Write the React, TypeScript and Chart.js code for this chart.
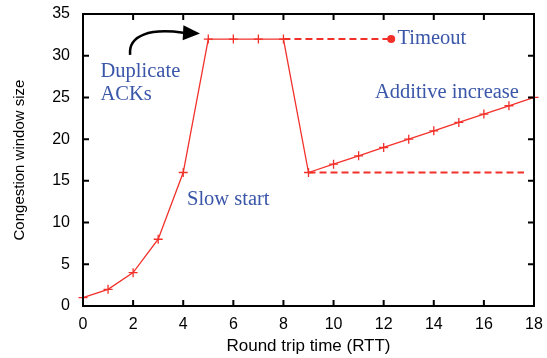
import React, { useEffect, useRef } from "react";
import { Chart, registerables } from "chart.js";

Chart.register(...registerables);

const rttValues = [0, 1, 2, 3, 4, 5, 6, 7, 8, 9, 10, 11, 12, 13, 14, 15, 16, 17, 18];
const windowSizes = [1, 2, 4, 8, 16, 32, 32, 32, 32, 16, 17, 18, 19, 20, 21, 22, 23, 24, 25];
const timeoutX = [8, 12.3];
const timeoutY = [32, 32];
const thresholdX = [9, 17.6];
const thresholdY = [16, 16];

const annotationTexts = ["Duplicate", "ACKs", "Slow start", "Timeout", "Additive increase"];
const annotationX = [0.7, 0.7, 4.15, 12.55, 11.65];
const annotationY = [27.4, 24.65, 12.1, 31.4, 24.9];

// arrow (data coords): start, ctrl1, ctrl2, end of curve, tip
const arrowX = [1.88, 1.8, 2.7, 4.0, 4.67];
const arrowY = [30.1, 32.5, 33.3, 32.75, 32.65];

const RED = "#f2302a";
const BLUE = "#3a56a8";

const framePlugin = {
  id: "frameAndNotes",
  afterDraw(chart: any) {
    const { ctx, chartArea } = chart;
    const xs = chart.scales.x;
    const ys = chart.scales.y;
    ctx.save();
    ctx.strokeStyle = "#000";
    ctx.lineWidth = 2;
    ctx.strokeRect(chartArea.left, chartArea.top, chartArea.right - chartArea.left, chartArea.bottom - chartArea.top);
    const tl = 6;
    ctx.beginPath();
    xs.ticks.forEach((t: any) => {
      const px = xs.getPixelForValue(t.value);
      ctx.moveTo(px, chartArea.bottom);
      ctx.lineTo(px, chartArea.bottom - tl);
      ctx.moveTo(px, chartArea.top);
      ctx.lineTo(px, chartArea.top + tl);
    });
    ys.ticks.forEach((t: any) => {
      const py = ys.getPixelForValue(t.value);
      ctx.moveTo(chartArea.left, py);
      ctx.lineTo(chartArea.left + tl, py);
      ctx.moveTo(chartArea.right, py);
      ctx.lineTo(chartArea.right - tl, py);
    });
    ctx.stroke();

    ctx.fillStyle = BLUE;
    ctx.font = "20.5px 'Liberation Serif', serif";
    ctx.textAlign = "left";
    ctx.textBaseline = "alphabetic";
    annotationTexts.forEach((txt, i) => {
      ctx.fillText(txt, xs.getPixelForValue(annotationX[i]), ys.getPixelForValue(annotationY[i]));
    });

    const p = arrowX.map((x, i) => [xs.getPixelForValue(x), ys.getPixelForValue(arrowY[i])]);
    ctx.strokeStyle = "#000";
    ctx.lineWidth = 2.5;
    ctx.beginPath();
    ctx.moveTo(p[0][0], p[0][1]);
    ctx.bezierCurveTo(p[1][0], p[1][1], p[2][0], p[2][1], p[3][0], p[3][1]);
    ctx.stroke();
    const tip = p[4];
    const base = p[3];
    const ang = Math.atan2(tip[1] - base[1], tip[0] - base[0]);
    const len = 17;
    const hw = 7.5;
    const bx = tip[0] - len * Math.cos(ang);
    const by = tip[1] - len * Math.sin(ang);
    ctx.fillStyle = "#000";
    ctx.beginPath();
    ctx.moveTo(tip[0], tip[1]);
    ctx.lineTo(bx - hw * Math.sin(ang), by + hw * Math.cos(ang));
    ctx.lineTo(bx + hw * Math.sin(ang), by - hw * Math.cos(ang));
    ctx.closePath();
    ctx.fill();
    ctx.restore();
  },
};

export default function App() {
  const ref = useRef<HTMLCanvasElement>(null);
  useEffect(() => {
    document.body.style.margin = "0";
    const mainData = rttValues.map((x, i) => ({ x, y: windowSizes[i] }));
    const timeoutData = timeoutX.map((x, i) => ({ x, y: timeoutY[i] }));
    const thresholdData = thresholdX.map((x, i) => ({ x, y: thresholdY[i] }));
    const tickFont = { family: "'Liberation Sans', Arial, sans-serif", size: 16 };
    const chart = new Chart(ref.current as HTMLCanvasElement, {
      type: "line",
      data: {
        datasets: [
          {
            data: timeoutData,
            borderColor: RED,
            backgroundColor: RED,
            borderWidth: 2,
            borderDash: [7, 4],
            pointRadius: [0, 4],
            pointStyle: "circle",
            pointBorderWidth: 0,
            clip: false,
          } as any,
          {
            data: thresholdData,
            borderColor: RED,
            borderWidth: 2,
            borderDash: [7, 4],
            pointRadius: 0,
            clip: false,
          } as any,
          {
            data: mainData,
            borderColor: RED,
            borderWidth: 1.3,
            pointStyle: "cross",
            pointRadius: 4.5,
            pointBorderColor: RED,
            pointBorderWidth: 1.3,
            clip: false,
          } as any,
        ],
      },
      options: {
        animation: false,
        responsive: false,
        maintainAspectRatio: false,
        layout: { padding: { top: 14, right: 13, left: 0, bottom: 0 } },
        plugins: { legend: { display: false }, tooltip: { enabled: false } },
        scales: {
          x: {
            type: "linear",
            min: 0,
            max: 18,
            ticks: { stepSize: 2, font: tickFont, color: "#000", padding: 9, maxRotation: 0 },
            grid: { display: false, drawTicks: false },
            border: { display: false },
            title: {
              display: true,
              text: "Round trip time (RTT)",
              font: { family: "'Liberation Sans', Arial, sans-serif", size: 17 },
              color: "#000",
              padding: { top: 0, bottom: 1 },
            },
            afterFit: (s: any) => {
              s.height = 52;
              s.paddingLeft = 0;
              s.paddingRight = 0;
            },
          },
          y: {
            type: "linear",
            min: 0,
            max: 35,
            ticks: { stepSize: 5, font: tickFont, color: "#000", padding: 13 },
            grid: { display: false, drawTicks: false },
            border: { display: false },
            title: {
              display: true,
              text: "Congestion window size",
              font: { family: "'Liberation Sans', Arial, sans-serif", size: 15 },
              color: "#000",
              padding: { top: 11, bottom: 0 },
            },
            afterFit: (s: any) => {
              s.width = 83;
              s.paddingTop = 0;
              s.paddingBottom = 0;
            },
          },
        },
      },
      plugins: [framePlugin],
    } as any);
    return () => chart.destroy();
  }, []);
  return (
    <div style={{ position: "fixed", left: 0, top: 0, width: 547, height: 358 }}>
      <canvas ref={ref} width={547} height={358} style={{ width: 547, height: 358 }} />
    </div>
  );
}
